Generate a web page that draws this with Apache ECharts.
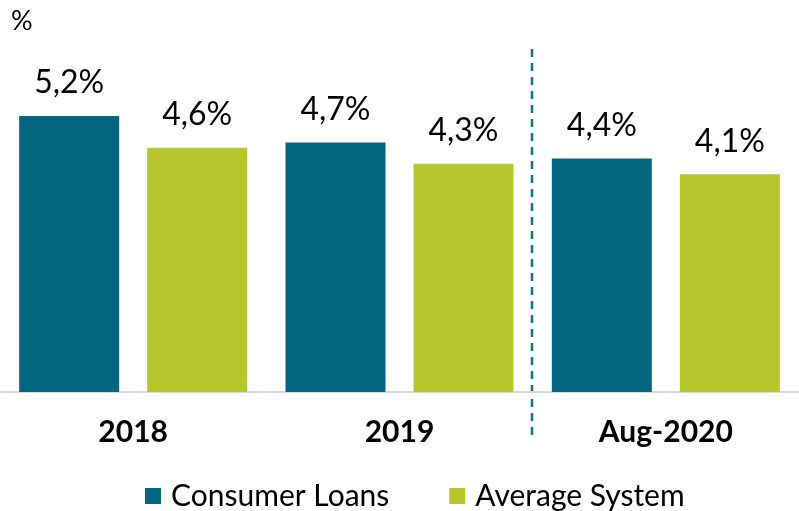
<!DOCTYPE html>
<html>
<head>
<meta charset="utf-8">
<script src="https://cdn.jsdelivr.net/npm/echarts@6/dist/echarts.min.js"></script>
<style>
  html, body { margin: 0; padding: 0; background: #fff; }
  #chart { width: 799px; height: 511px; }
</style>
</head>
<body>
<div id="chart"></div>
<script>
// data
var categories = ['2018', '2019', 'Aug-2020'];
var consumerLoans = [5.2, 4.7, 4.4];
var averageSystem = [4.6, 4.3, 4.1];

var FONT = 'Lato';
var fmt = function (p) { return p.value.toFixed(1).replace('.', ',') + '%'; };
var pctMark = { type: 'text', left: 11, top: 8, style: { text: '%', font: '27px ' + FONT, fill: '#000' } };

var chart = echarts.init(document.getElementById('chart'));
chart.setOption({
  animation: false,
  textStyle: { fontFamily: FONT },
  grid: { left: -5, right: -4, top: 73.5, bottom: 119 },
  legend: {
    bottom: -5,
    left: 140,
    itemWidth: 16,
    itemHeight: 16,
    itemGap: 60,
    icon: 'rect',
    textStyle: { fontFamily: FONT, fontSize: 30, color: '#000', padding: [0, 0, 0, 5] },
    data: ['Consumer Loans', 'Average System']
  },
  graphic: [pctMark],
  xAxis: {
    type: 'category',
    data: categories,
    axisLine: { lineStyle: { color: '#d9d9d9', width: 2 } },
    axisTick: { show: false },
    axisLabel: { fontFamily: FONT, fontWeight: 'bold', fontSize: 30, color: '#000', margin: 25 }
  },
  yAxis: {
    type: 'value',
    min: 0,
    max: 6,
    show: false,
    splitLine: { show: false }
  },
  series: [
    {
      name: 'Consumer Loans',
      type: 'bar',
      data: consumerLoans,
      barWidth: 100,
      barGap: '28%',
      itemStyle: { color: '#026680' },
      label: { show: true, position: 'top', distance: 17, formatter: fmt, fontFamily: FONT, fontSize: 32, color: '#000' }
    },
    {
      name: 'Average System',
      type: 'bar',
      data: averageSystem,
      barWidth: 100,
      itemStyle: { color: '#b9c52f' },
      label: { show: true, position: 'top', distance: 17, formatter: fmt, fontFamily: FONT, fontSize: 32, color: '#000' }
    }
  ]
});

// dashed separator between 2019 and Aug-2020
var x1 = chart.convertToPixel({ xAxisIndex: 0 }, categories[1]);
var x2 = chart.convertToPixel({ xAxisIndex: 0 }, categories[2]);
var sepX = Math.round((x1 + x2) / 2) - 1;
chart.setOption({
  graphic: [pctMark, {
    type: 'line',
    shape: { x1: sepX, y1: 49, x2: sepX, y2: 436 },
    style: { stroke: '#1b6f8c', lineWidth: 2.5, lineDash: [8, 6] }
  }]
});
</script>
</body>
</html>
